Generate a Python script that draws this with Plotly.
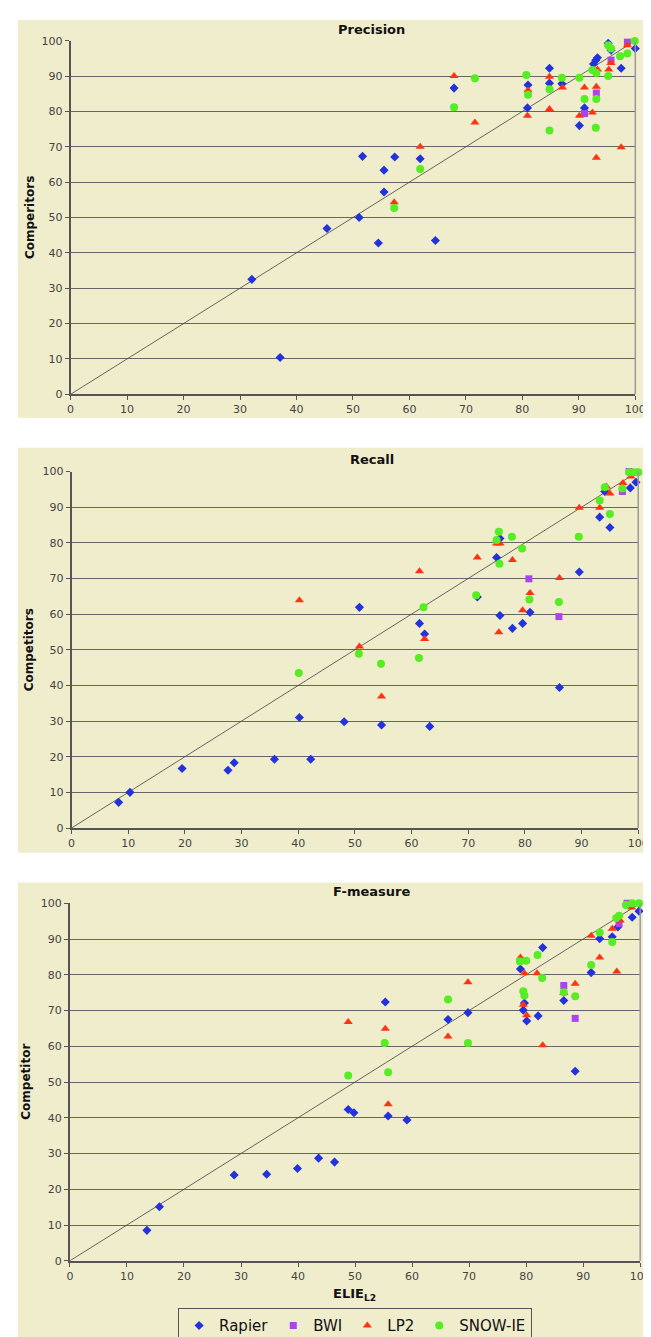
import plotly.graph_objects as go

W, H = 651, 1337

series_names = ["Rapier", "BWI", "LP2", "SNOW-IE"]
series_symbols = ["diamond", "square", "triangle-up", "circle"]
series_colors = ["#2233DD", "#AA44EE", "#FF3311", "#55EE22"]
series_sizes = [7, 7, 8, 8]

tick_vals = [0, 10, 20, 30, 40, 50, 60, 70, 80, 90, 100]
tick_text = [str(v) for v in tick_vals]

# ---------------- Precision ----------------
prec_rapier_x = [32.1, 37.1, 45.4, 51.7, 55.5, 57.4, 55.5, 51.1, 54.5, 61.9, 64.6, 67.9, 80.9, 81.0, 84.8, 84.8, 87.0, 90.1, 91.0, 92.6, 93.0, 93.3, 95.2, 95.7, 97.5, 100.0]
prec_rapier_y = [32.5, 10.4, 46.9, 67.3, 63.4, 67.1, 57.2, 50.0, 42.8, 66.6, 43.5, 86.6, 81.0, 87.5, 92.2, 88.0, 87.8, 76.0, 81.0, 93.4, 94.5, 95.2, 99.3, 97.3, 92.2, 97.8]
prec_bwi_x = [91.0, 93.1, 95.7, 98.6]
prec_bwi_y = [79.4, 85.2, 94.5, 99.6]
prec_lp2_x = [57.3, 61.9, 67.9, 71.6, 80.9, 81.0, 84.8, 84.8, 87.1, 90.1, 91.0, 92.4, 93.1, 93.1, 93.3, 95.3, 95.7, 97.5, 98.6]
prec_lp2_y = [54.3, 70.0, 90.0, 76.9, 78.8, 86.0, 89.8, 80.7, 86.8, 78.8, 86.8, 79.7, 87.0, 66.9, 91.9, 91.9, 93.7, 69.9, 98.7]
prec_snow_x = [57.3, 61.9, 67.9, 71.6, 80.7, 81.0, 84.8, 84.8, 87.0, 90.1, 91.0, 92.4, 93.1, 93.1, 93.0, 95.2, 95.2, 95.7, 97.3, 98.6, 99.9]
prec_snow_y = [52.7, 63.7, 81.2, 89.4, 90.3, 84.7, 86.3, 74.6, 89.5, 89.5, 83.5, 91.7, 90.9, 83.5, 75.4, 90.0, 98.7, 97.8, 95.6, 96.4, 99.9]

# ---------------- Recall ----------------
rec_rapier_x = [8.3, 10.3, 19.5, 27.6, 28.7, 35.8, 40.2, 42.2, 48.1, 50.8, 54.7, 61.4, 62.3, 63.2, 71.6, 75.0, 75.6, 75.6, 77.8, 79.6, 80.9, 86.1, 89.6, 93.2, 94.1, 95.0, 98.6, 99.6]
rec_rapier_y = [7.2, 10.0, 16.7, 16.2, 18.3, 19.3, 31.0, 19.3, 29.8, 61.9, 28.9, 57.4, 54.4, 28.5, 64.8, 75.9, 81.2, 59.6, 56.0, 57.4, 60.5, 39.4, 71.8, 87.2, 94.4, 84.3, 95.4, 97.0]
rec_bwi_x = [80.7, 86.0, 97.2, 98.4]
rec_bwi_y = [69.9, 59.3, 94.4, 100.0]
rec_lp2_x = [40.2, 50.8, 54.7, 61.4, 62.3, 71.6, 75.0, 75.6, 75.4, 77.8, 79.6, 80.9, 86.1, 89.6, 93.2, 94.4, 95.0, 97.3, 98.7, 99.9]
rec_lp2_y = [63.9, 50.9, 36.9, 72.0, 53.0, 75.9, 79.8, 79.8, 54.9, 75.2, 61.1, 65.9, 70.1, 89.8, 89.8, 95.8, 93.8, 96.8, 98.6, 99.8]
rec_snow_x = [40.1, 50.7, 54.6, 61.3, 62.1, 71.4, 75.0, 75.4, 75.5, 77.7, 79.5, 80.8, 86.0, 89.5, 93.2, 94.1, 95.0, 97.2, 98.4, 99.3, 100.0]
rec_snow_y = [43.5, 48.9, 46.1, 47.7, 61.9, 65.3, 80.8, 83.1, 74.1, 81.7, 78.4, 64.1, 63.4, 81.7, 91.9, 95.6, 88.1, 95.2, 99.8, 99.8, 99.8]

# ---------------- F-measure ----------------
f_rapier_x = [13.5, 15.7, 28.8, 34.5, 39.9, 43.6, 46.4, 48.8, 49.8, 55.3, 55.8, 59.1, 66.3, 69.8, 79.0, 79.7, 79.5, 80.1, 82.1, 82.9, 86.6, 88.6, 91.4, 92.9, 95.1, 96.1, 98.6, 99.8]
f_rapier_y = [8.5, 15.1, 24.0, 24.2, 25.8, 28.7, 27.6, 42.3, 41.4, 72.4, 40.5, 39.4, 67.5, 69.4, 81.6, 72.1, 70.1, 67.1, 68.5, 87.6, 72.8, 53.0, 80.6, 90.1, 90.6, 93.4, 96.1, 97.8]
f_bwi_x = [86.6, 88.6, 96.3, 97.7]
f_bwi_y = [77.0, 67.8, 94.3, 100.0]
f_lp2_x = [48.8, 55.3, 55.8, 66.3, 69.8, 79.0, 79.7, 79.5, 80.1, 81.9, 82.9, 86.6, 88.6, 91.4, 92.9, 95.1, 95.9, 96.5, 98.5]
f_lp2_y = [66.8, 64.9, 43.8, 62.7, 77.9, 84.8, 80.4, 71.6, 68.7, 80.4, 60.3, 74.9, 77.5, 90.9, 84.8, 92.9, 80.9, 95.2, 98.8]
f_snow_x = [48.8, 55.2, 55.8, 66.3, 69.8, 78.9, 80.0, 82.0, 82.8, 79.5, 79.7, 86.6, 88.6, 91.4, 92.9, 95.1, 95.8, 96.3, 97.5, 98.6, 99.8]
f_snow_y = [51.8, 60.9, 52.7, 73.1, 60.9, 83.7, 83.9, 85.5, 79.1, 75.4, 74.2, 75.1, 74.0, 82.7, 91.8, 89.2, 95.9, 96.5, 99.5, 100.0, 100.0]

diag = [0, 100]

panels = [
    dict(title="Precision", ytitle="Comperitors",
         data=[(prec_rapier_x, prec_rapier_y), (prec_bwi_x, prec_bwi_y), (prec_lp2_x, prec_lp2_y), (prec_snow_x, prec_snow_y)],
         xdom=[60, 638], ytop=27, ybot=384, bg=[6, 408], title_y=16, ytitle_x=18),
    dict(title="Recall", ytitle="Competitors",
         data=[(rec_rapier_x, rec_rapier_y), (rec_bwi_x, rec_bwi_y), (rec_lp2_x, rec_lp2_y), (rec_snow_x, rec_snow_y)],
         xdom=[61, 641], ytop=462, ybot=822, bg=[438, 847], title_y=450, ytitle_x=17),
    dict(title="F-measure", ytitle="Competitor",
         data=[(f_rapier_x, f_rapier_y), (f_bwi_x, f_bwi_y), (f_lp2_x, f_lp2_y), (f_snow_x, f_snow_y)],
         xdom=[59.3, 643], ytop=898, ybot=1259, bg=[877, 1337], title_y=886, ytitle_x=14),
]

BG = "#F0EDCD"
FONT = "DejaVu Sans"

fig = go.Figure()
shapes = []
annotations = []
layout_axes = {}

for i, p in enumerate(panels):
    n = "" if i == 0 else str(i + 1)
    xa, ya = "x" + n, "y" + n
    fig.add_trace(go.Scatter(x=diag, y=diag, mode="lines", line=dict(color="#444444", width=0.8),
                             xaxis=xa, yaxis=ya, showlegend=False, hoverinfo="skip"))
    for k, (xs, ys) in enumerate(p["data"]):
        fig.add_trace(go.Scatter(
            x=xs, y=ys, mode="markers", name=series_names[k],
            marker=dict(symbol=series_symbols[k], color=series_colors[k], size=series_sizes[k], line=dict(width=0)),
            xaxis=xa, yaxis=ya, showlegend=(i == 2), cliponaxis=False))
    layout_axes["xaxis" + n] = dict(
        domain=[p["xdom"][0] / W, p["xdom"][1] / W], range=[0, 100], anchor=ya,
        tickvals=tick_vals, ticktext=tick_text, showgrid=False, zeroline=False,
        showline=True, linecolor="#555555", linewidth=2, ticks="outside", ticklen=4, tickcolor="#555555",
        tickfont=dict(family=FONT, size=11, color="#444444"), fixedrange=True)
    layout_axes["yaxis" + n] = dict(
        domain=[(H - p["ybot"]) / H, (H - p["ytop"]) / H], range=[0, 100], anchor=xa,
        tickvals=tick_vals, ticktext=tick_text, showgrid=True, gridcolor="#666666", gridwidth=1.2,
        zeroline=False, showline=True, linecolor="#555555", linewidth=2, mirror=False,
        ticks="outside", ticklen=4, tickcolor="#555555",
        tickfont=dict(family=FONT, size=11, color="#444444"), fixedrange=True)
    # panel background
    shapes.append(dict(type="rect", xref="paper", yref="paper", x0=6 / W, x1=1,
                       y0=(H - p["bg"][1]) / H, y1=(H - p["bg"][0]) / H,
                       fillcolor=BG, line=dict(width=0), layer="below"))
    # right border line of plot area
    shapes.append(dict(type="line", xref="paper", yref="paper",
                       x0=p["xdom"][1] / W, x1=p["xdom"][1] / W,
                       y0=(H - p["ybot"]) / H, y1=(H - p["ytop"]) / H,
                       line=dict(color="#999999", width=1.5)))
    annotations.append(dict(text="<b>" + p["title"] + "</b>", xref="paper", yref="paper",
                            x=368 / W, y=(H - p["title_y"]) / H, xanchor="center", yanchor="middle",
                            showarrow=False, font=dict(family=FONT, size=13, color="#111111")))
    annotations.append(dict(text="<b>" + p["ytitle"] + "</b>", xref="paper", yref="paper",
                            x=p["ytitle_x"] / W, y=(H - (p["ytop"] + p["ybot"]) / 2) / H,
                            xanchor="center", yanchor="middle", textangle=-90,
                            showarrow=False, font=dict(family=FONT, size=12, color="#111111")))

annotations.append(dict(text="<b>ELIE<sub>L2</sub></b>", xref="paper", yref="paper",
                        x=351 / W, y=(H - 1293) / H, xanchor="center", yanchor="middle",
                        showarrow=False, font=dict(family=FONT, size=13, color="#111111")))

fig.update_layout(
    width=W, height=H, margin=dict(l=0, r=0, t=0, b=0),
    paper_bgcolor="white", plot_bgcolor=BG,
    shapes=shapes, annotations=annotations,
    legend=dict(orientation="h", x=170 / W, xanchor="left", y=(H - 1307) / H, yanchor="top",
                bgcolor=BG, bordercolor="#555555", borderwidth=1,
                font=dict(family=FONT, size=15, color="#111111"), itemwidth=30,
                tracegroupgap=0),
    showlegend=True,
    **layout_axes,
)

fig.write_html("out.html")
